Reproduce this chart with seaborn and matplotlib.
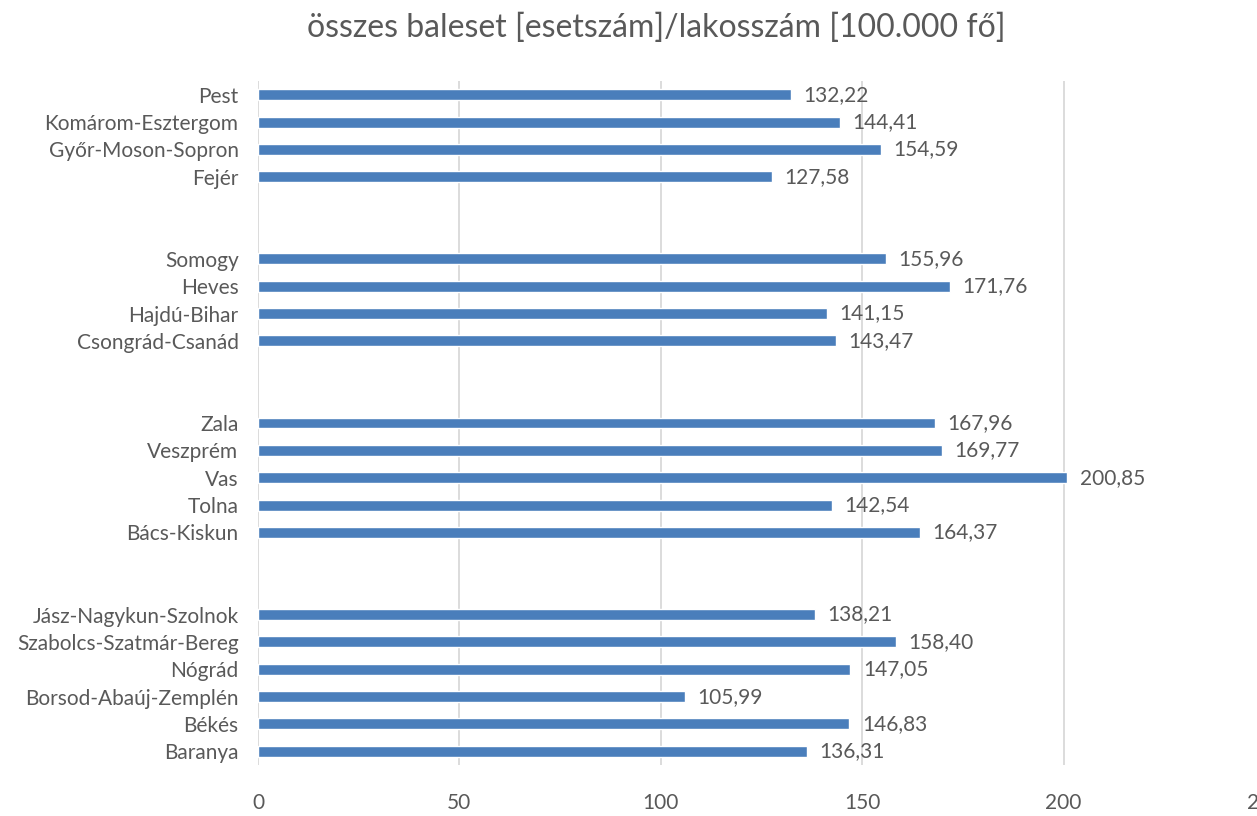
import matplotlib
matplotlib.use("Agg")
import matplotlib.pyplot as plt
import seaborn as sns
import pandas as pd

# County accident rates (cases per 100 000 inhabitants), grouped by region
counties = [
    "Pest", "Komárom-Esztergom", "Győr-Moson-Sopron", "Fejér",
    "Somogy", "Heves", "Hajdú-Bihar", "Csongrád-Csanád",
    "Zala", "Veszprém", "Vas", "Tolna", "Bács-Kiskun",
    "Jász-Nagykun-Szolnok", "Szabolcs-Szatmár-Bereg", "Nógrád",
    "Borsod-Abaúj-Zemplén", "Békés", "Baranya",
]
rates = [
    132.22, 144.41, 154.59, 127.58,
    155.96, 171.76, 141.15, 143.47,
    167.96, 169.77, 200.85, 142.54, 164.37,
    138.21, 158.40, 147.05, 105.99, 146.83, 136.31,
]

# Row order top to bottom, with empty spacer rows between groups
row_order = (
    counties[0:4] + [" ", "  "]
    + counties[4:8] + ["   ", "    "]
    + counties[8:13] + ["     ", "      "]
    + counties[13:19]
)

df = pd.DataFrame({"county": counties, "rate": rates})

sns.set_theme(style="white")
plt.rcParams["font.family"] = ["Lato", "DejaVu Sans"]

text_color = "#595959"
grid_color = "#d9d9d9"
bar_color = "#4a7ebb"

fig = plt.figure(figsize=(12.57, 8.16), dpi=100)
ax = fig.add_axes([258 / 1257, 1 - 765 / 816, (1265 - 258) / 1257, (765 - 81) / 816])

sns.barplot(data=df, x="rate", y="county", order=row_order, orient="h",
            color=bar_color, width=0.4, saturation=1, ax=ax, errorbar=None)

ax.set_xlim(0, 250)
ax.set_xticks([0, 50, 100, 150, 200, 250])
ax.xaxis.grid(True, color=grid_color, linewidth=1.3)
ax.set_axisbelow(True)
for s in ax.spines.values():
    s.set_visible(False)
ax.set_xlabel("")
ax.set_ylabel("")
ax.tick_params(axis="x", length=0, pad=20, labelsize=15, labelcolor=text_color)
ax.tick_params(axis="y", length=0, pad=14, labelsize=15, labelcolor=text_color)

for cont in ax.containers:
    labels = [f"{v:.2f}".replace(".", ",") for v in cont.datavalues]
    ax.bar_label(cont, labels=labels, padding=9, fontsize=15, color=text_color)

fig.suptitle("összes baleset [esetszám]/lakosszám [100.000 fő]",
             x=656 / 1257, y=1 - 13 / 816, va="top", fontsize=23, color=text_color)

fig.savefig("out.png", dpi=100)
